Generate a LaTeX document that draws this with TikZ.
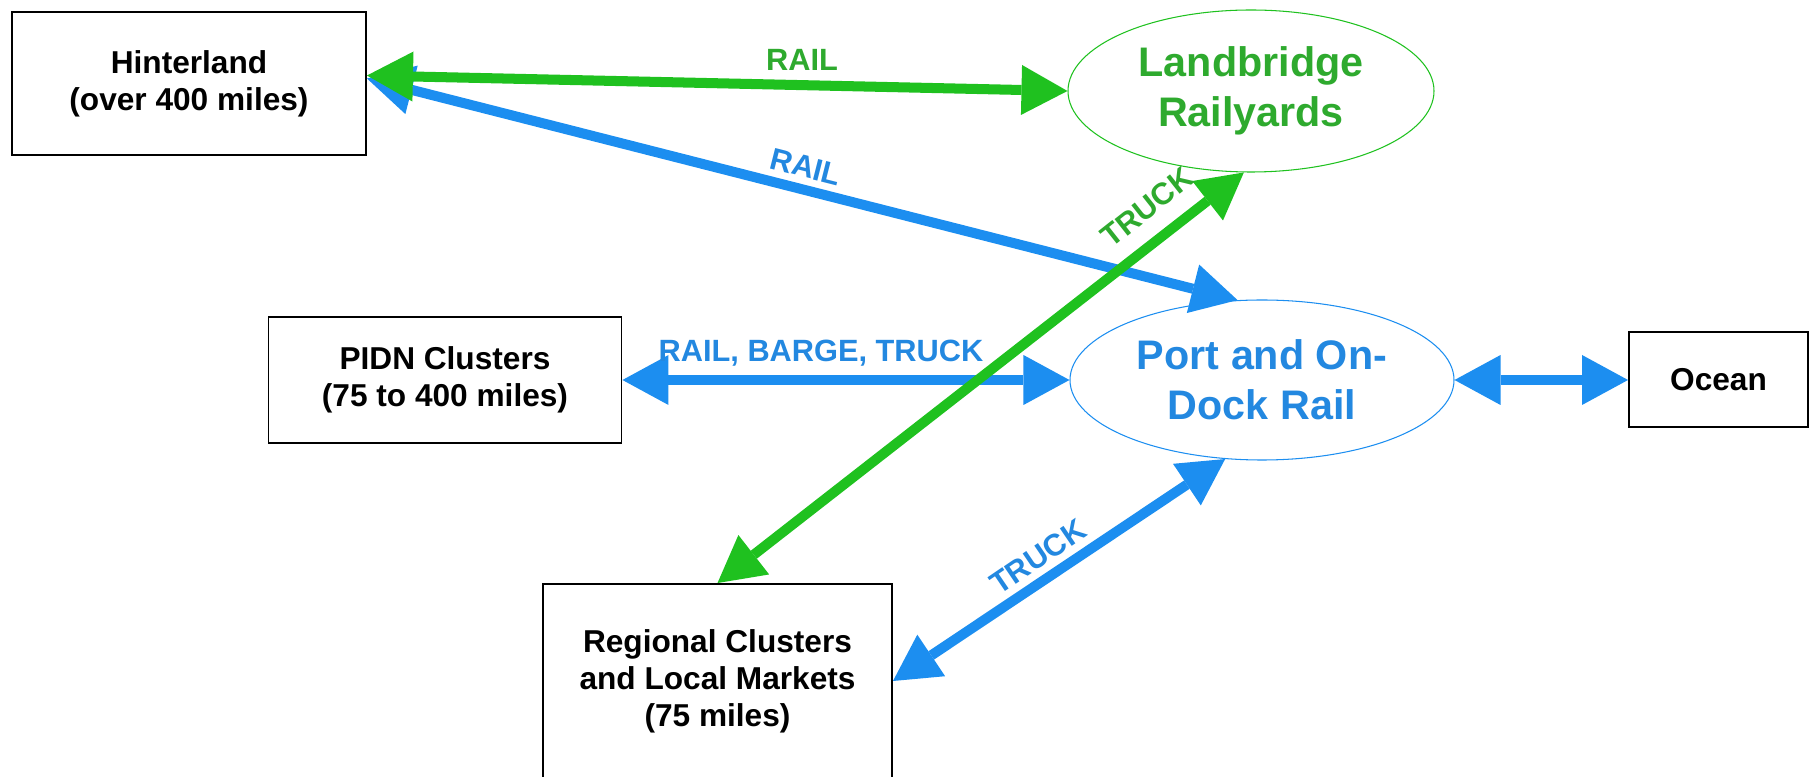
\documentclass[tikz,border=0pt]{standalone}
\usepackage{fontspec}
\setmainfont{Liberation Sans}
\usetikzlibrary{arrows.meta,shapes.geometric}
\definecolor{gline}{HTML}{1FC11F}
\definecolor{gtext}{HTML}{2EAA2E}
\definecolor{bline}{HTML}{1C8EF0}
\definecolor{btext}{HTML}{2388E0}

\begin{document}
\begin{tikzpicture}[
  box/.style={draw=black,line width=1.1pt,align=center,inner sep=0pt,font=\bfseries\fontsize{18}{21}\selectfont},
  hub/.style={ellipse,line width=0.6pt,align=center,inner sep=0pt,font=\bfseries\fontsize{23.5}{28.5}\selectfont},
  lnk/.style={line width=5.7pt,{Triangle[length=0.92cm,width=1.0cm,line width=0pt]}-{Triangle[length=0.92cm,width=1.0cm,line width=0pt]}},
  lbl/.style={font=\bfseries\fontsize{17.5}{21}\selectfont,inner sep=0pt}
]
  \useasboundingbox (0,0) rectangle (36.24,-15.54);
  % places
  \node[box,minimum width=7.08cm,minimum height=2.86cm] (hin)   at (3.78,-1.67)  {Hinterland\\(over 400 miles)};
  \node[hub,draw=gline,text=gtext,minimum width=7.32cm,minimum height=3.24cm] (land) at (25.02,-1.82) {Landbridge\\Railyards};
  \node[box,minimum width=7.06cm,minimum height=2.52cm] (pidn)  at (8.90,-7.60)  {PIDN Clusters\\(75 to 400 miles)};
  \node[hub,draw=bline,text=btext,minimum width=7.68cm,minimum height=3.20cm] (port) at (25.24,-7.60) {Port and On-\\Dock Rail};
  \node[box,minimum width=3.58cm,minimum height=1.90cm] (ocean) at (34.37,-7.59) {Ocean};
  \node[box,minimum width=6.98cm,minimum height=3.88cm] (reg)   at (14.35,-13.62) {Regional Clusters\\and Local Markets\\(75 miles)};
  % blue links
  \draw[lnk,bline] ([yshift=0.1cm]hin.east) -- (port.107);
  \draw[lnk,bline] (pidn.east) -- (port.west);
  \draw[lnk,bline] (port.east) -- (port.east -| ocean.west);
  \draw[lnk,bline] (reg.east) -- (port.245);
  % green links
  \draw[lnk,gline] ([yshift=0.16cm]hin.east) -- (land.west);
  \draw[lnk,gline] (reg.north) -- (land.265);
  % labels
  \node[lbl,text=gtext] (grail) at (16.04,-1.20) {RAIL};
  \node[lbl,text=btext,rotate=-14.2] (brail) at (16.12,-3.34) {RAIL};
  \node[lbl,text=btext] (bmix) at (16.42,-7.06) {RAIL, BARGE, TRUCK};
  \node[lbl,text=gtext,rotate=38.3] (gtruck) at (22.94,-4.14) {TRUCK};
  \node[lbl,text=btext,rotate=34.2] (btruck) at (20.76,-11.14) {TRUCK};
\end{tikzpicture}
\end{document}
